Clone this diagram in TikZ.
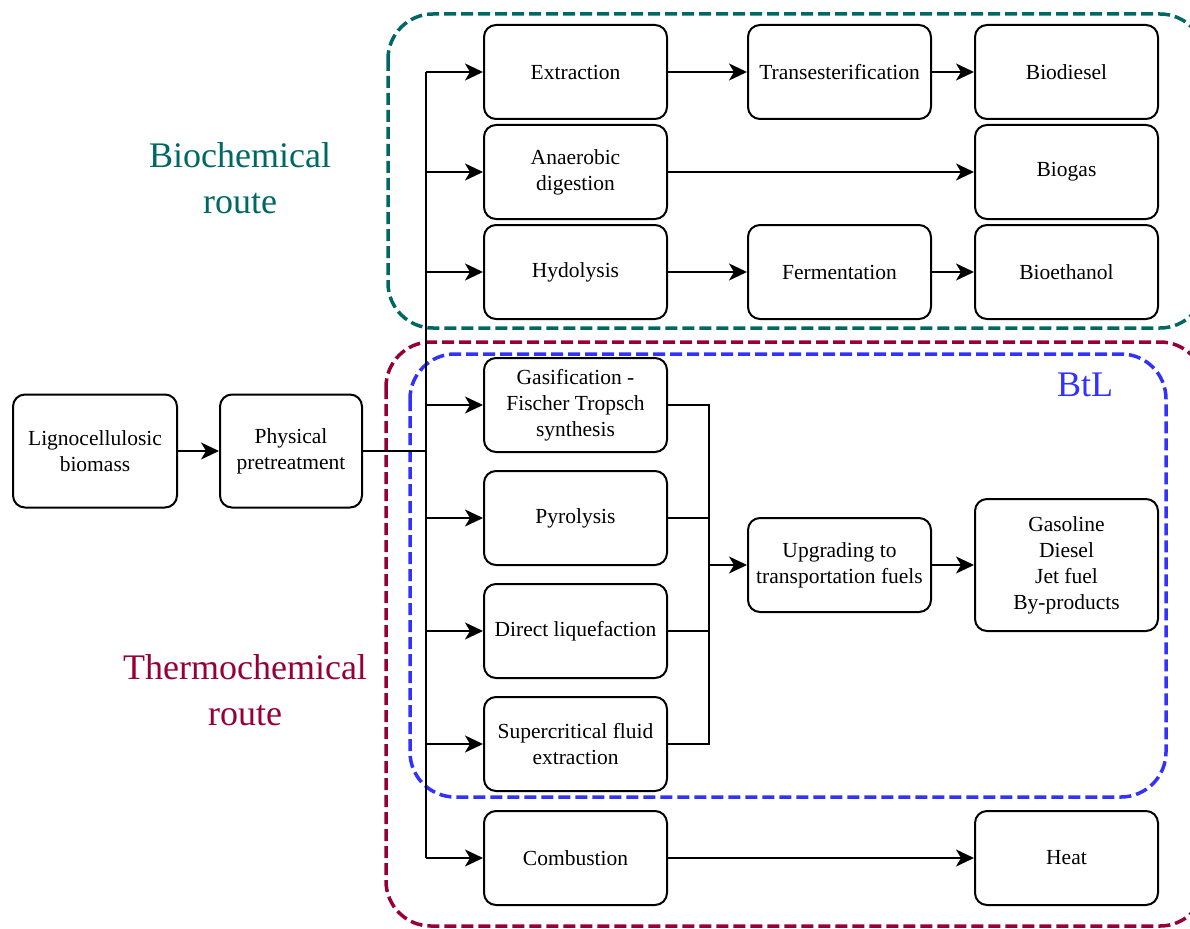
\documentclass[tikz,border=0pt]{standalone}
\usepackage{fontspec}
\setmainfont{Liberation Serif}
\usetikzlibrary{arrows.meta}
\definecolor{biogreen}{RGB}{0,104,100}
\definecolor{thermred}{RGB}{150,0,55}
\definecolor{btlblue}{RGB}{50,50,250}
\begin{document}
\begin{tikzpicture}[x=1pt,y=-1pt,
  box/.style={draw, fill=white, rounded corners=12pt, line width=2pt, minimum width=183pt, minimum height=94pt, align=center, inner sep=2pt, font=\fontsize{21.5}{26}\selectfont},
  arr/.style={line width=1.8pt, -{Stealth[length=18pt,width=17pt,inset=5pt]}},
  conn/.style={line width=1.8pt},
  region/.style={line width=3.5pt, dash pattern=on 12pt off 5pt, rounded corners=45pt},
  biglabel/.style={align=center, font=\fontsize{36}{46}\selectfont}
]
\useasboundingbox (0,0) rectangle (1190,928);
\begin{scope}
\clip (0,0) rectangle (1190,928);
\draw[region, biogreen] (388,14) rectangle (1205,328);
\draw[region, thermred] (386,342) rectangle (1205,926);
\draw[region, btlblue] (410,354) rectangle (1166,797);
\end{scope}

\node[biglabel, text=biogreen] (bio) at (240,178) {Biochemical\\route};
\node[biglabel, text=thermred] (thermo) at (245,690) {Thermochemical\\route};
\node[biglabel, text=btlblue] (btl) at (1085,385) {BtL};

% left
\node[box, minimum width=164pt, minimum height=113pt] (ligno) at (95,451) {Lignocellulosic\\biomass};
\node[box, minimum width=142pt, minimum height=113pt] (phys) at (291,451) {Physical\\pretreatment};

% column 1
\node[box] (ext) at (575.5,72) {Extraction};
\node[box] (ana) at (575.5,172) {Anaerobic\\digestion};
\node[box] (hyd) at (575.5,272) {Hydolysis};
\node[box] (gas) at (575.5,405) {Gasification -\\Fischer Tropsch\\synthesis};
\node[box] (pyr) at (575.5,518) {Pyrolysis};
\node[box] (dl) at (575.5,631) {Direct liquefaction};
\node[box] (sup) at (575.5,744) {Supercritical fluid\\extraction};
\node[box] (comb) at (575.5,858) {Combustion};

% column 2
\node[box] (trans) at (839.5,72) {Transesterification};
\node[box] (ferm) at (839.5,272) {Fermentation};
\node[box] (upg) at (839.5,565) {Upgrading to\\transportation fuels};

% column 3
\node[box] (bdiesel) at (1066.5,72) {Biodiesel};
\node[box] (biogas) at (1066.5,172) {Biogas};
\node[box] (bioeth) at (1066.5,272) {Bioethanol};
\node[box, minimum height=132pt] (fuels) at (1066.5,565) {Gasoline\\Diesel\\Jet fuel\\By-products};
\node[box] (heat) at (1066.5,858) {Heat};

\coordinate (trunk) at (426,0);
\coordinate (mrg) at (709,0);

\draw[arr] (ligno) -- (phys);
\draw[conn] (phys) -- (trunk |- phys);
\draw[conn] (trunk |- ext) -- (trunk |- comb);
\foreach \n in {ext,ana,hyd,gas,pyr,dl,sup,comb}
  \draw[arr] (trunk |- \n) -- (\n);

\draw[arr] (ext) -- (trans);
\draw[arr] (trans) -- (bdiesel);
\draw[arr] (ana) -- (biogas);
\draw[arr] (hyd) -- (ferm);
\draw[arr] (ferm) -- (bioeth);

\draw[conn] (gas.east) -- (mrg |- gas) -- (mrg |- sup) -- (sup.east);
\draw[conn] (pyr.east) -- (mrg |- pyr);
\draw[conn] (dl.east) -- (mrg |- dl);
\draw[arr] (mrg |- upg) -- (upg);
\draw[arr] (upg) -- (fuels);
\draw[arr] (comb) -- (heat);
\end{tikzpicture}
\end{document}
